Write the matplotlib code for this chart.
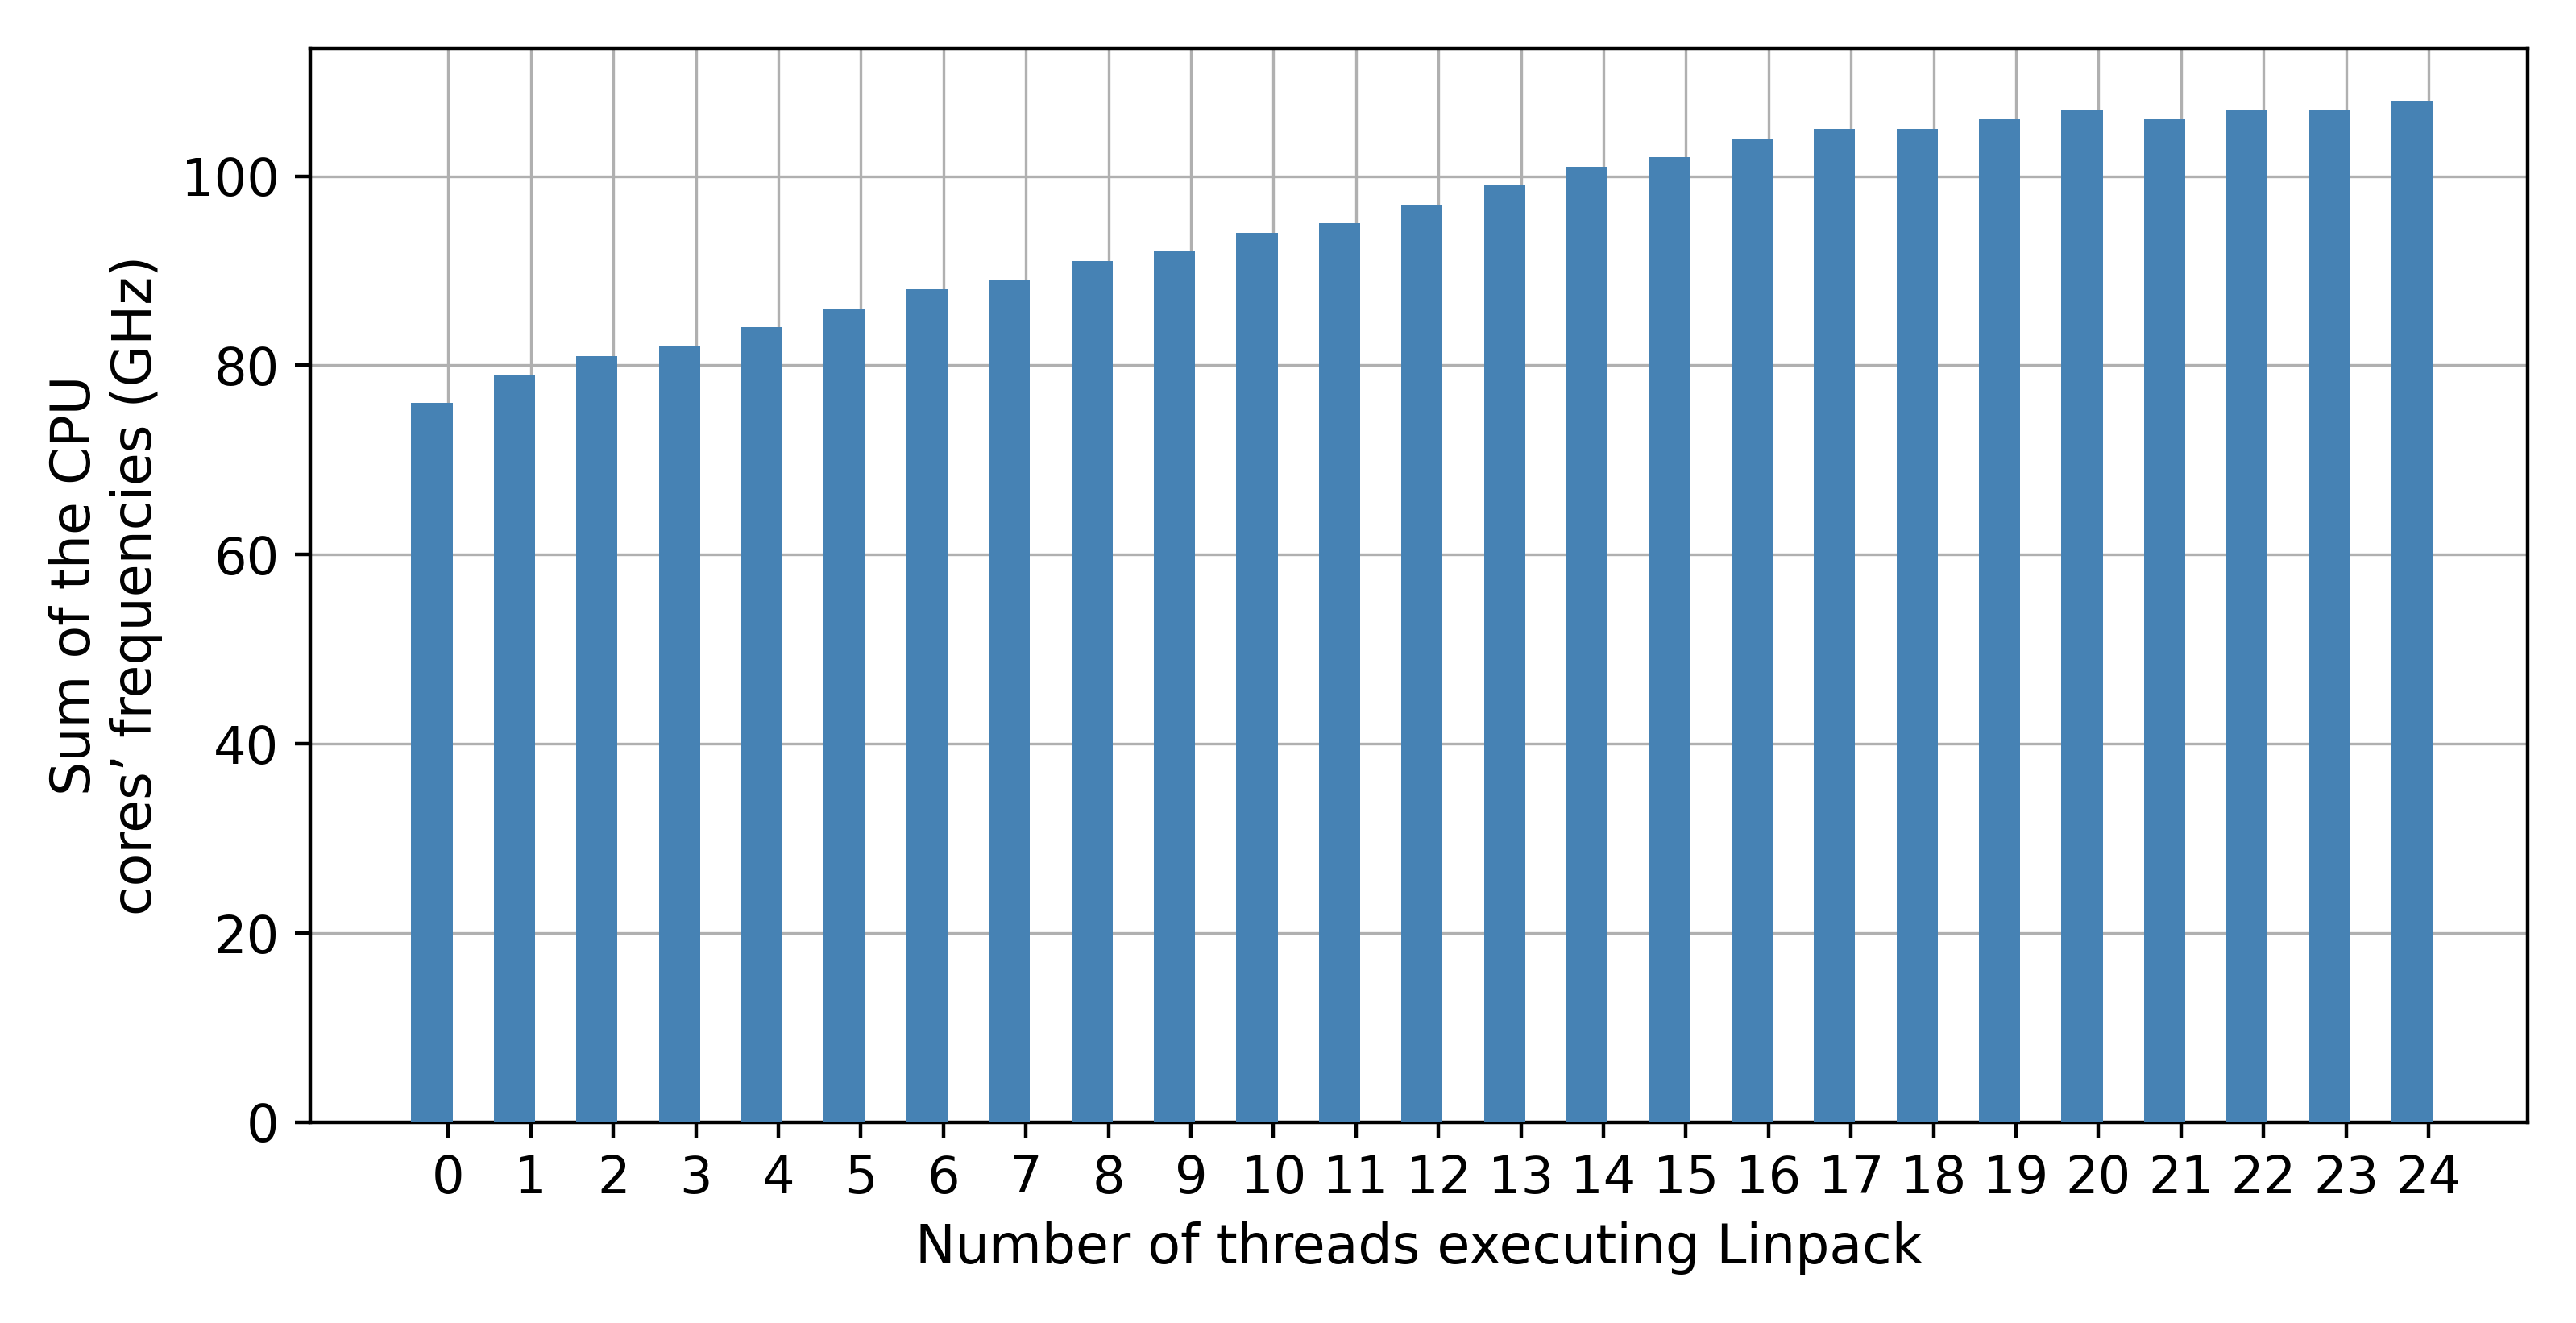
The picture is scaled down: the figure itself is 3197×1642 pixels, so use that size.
import numpy as np
import matplotlib.pyplot as plt

threads = list(range(25))
freq_sum = [76, 79, 81, 82, 84, 86, 88, 89, 91, 92, 94, 95, 97, 99, 101,
            102, 104, 105, 105, 106, 107, 106, 107, 107, 108]

fig, ax = plt.subplots(figsize=(7.9925, 4.105), dpi=400)

x = np.array(threads)
ax.bar(x, freq_sum, width=0.5, color="steelblue", zorder=3)
ax.set_xticks(x + 0.2)
ax.set_xticklabels([str(t) for t in threads], fontsize=11.5)
ax.tick_params(axis="y", labelsize=11.5)
ax.set_xlim(-1.47, 25.4)
ax.set_ylim(0, 113.5)
ax.grid(True, color="#b0b0b0", linewidth=0.6, zorder=0)

ax.set_xlabel("Number of threads executing Linpack", fontsize=12)
ax.set_ylabel("Sum of the CPU\ncores\u2019 frequencies (GHz)", fontsize=12)

plt.tight_layout()
plt.savefig("out.png")
plt.close()
